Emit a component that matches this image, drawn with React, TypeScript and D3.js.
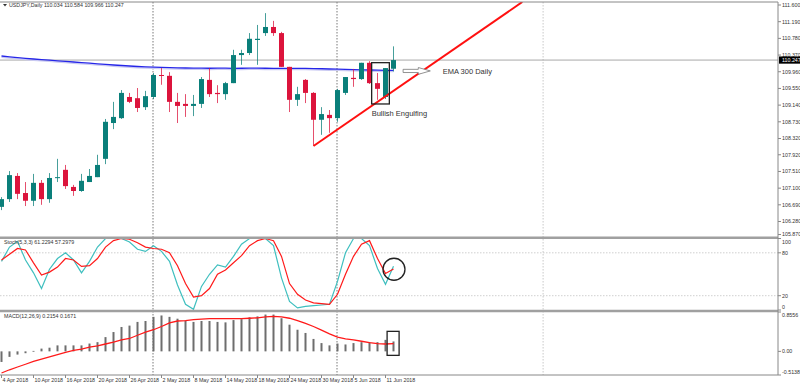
import React, { useEffect, useRef } from 'react';
import * as d3 from 'd3';

// tick labels on the time axis (every 4th bar)
const dateLabels = [
  '4 Apr 2018', '10 Apr 2018', '16 Apr 2018', '20 Apr 2018', '26 Apr 2018', '2 May 2018',
  '8 May 2018', '14 May 2018', '18 May 2018', '24 May 2018', '30 May 2018', '5 Jun 2018', '11 Jun 2018',
];
const priceTicks = [111.6, 111.19, 110.78, 110.37, 109.96, 109.55, 109.14, 108.73, 108.32, 107.92, 107.51, 107.1, 106.69, 106.28, 105.87];
const stochTicks = [100, 80, 20, 0];
const stochLevels = [80, 20];
const macdTicks = [0.8556, 0.0, -0.5138];
const lastPrice = 110.247;

// USDJPY daily candles, 4 Apr .. 12 Jun 2018
const opens = [
  106.64, 106.83, 107.40, 106.98, 106.79, 107.23, 106.83, 107.35, 107.55, 107.13,
  107.03, 107.25, 107.37, 107.82, 108.70, 108.82, 109.34, 109.31, 109.09, 109.34,
  109.88, 109.86, 109.22, 109.17, 109.12, 109.17, 109.76, 109.44, 109.41, 109.68,
  110.37, 110.42, 110.74, 110.91, 111.06, 110.91, 110.08, 109.27, 109.76, 109.44,
  108.78, 108.90, 108.82, 109.44, 109.81, 109.78, 110.18, 109.68, 109.34, 110.034,
];
const highs = [
  106.88, 107.52, 107.47, 107.25, 107.45, 107.30, 107.47, 107.82, 107.67, 107.18,
  107.45, 107.57, 107.92, 108.80, 109.22, 109.51, 109.44, 109.56, 109.49, 109.93,
  110.05, 109.95, 109.44, 109.41, 109.39, 109.83, 110.05, 109.63, 109.71, 110.50,
  110.50, 110.91, 111.11, 111.40, 111.21, 110.94, 110.08, 109.59, 109.78, 109.46,
  109.09, 109.02, 109.54, 109.83, 110.03, 110.18, 110.22, 109.93, 110.05, 110.584,
];
const lows = [
  106.56, 106.76, 106.83, 106.66, 106.66, 106.69, 106.74, 107.25, 107.08, 106.91,
  107.01, 107.25, 107.37, 107.69, 108.55, 108.80, 109.19, 108.97, 109.02, 109.29,
  109.64, 108.97, 108.70, 108.85, 108.87, 109.07, 109.34, 109.19, 109.27, 109.68,
  110.13, 110.37, 110.13, 110.84, 110.84, 110.08, 108.97, 109.12, 109.19, 108.14,
  108.41, 108.46, 108.73, 109.39, 109.59, 109.76, 109.66, 109.27, 109.29, 109.966,
];
const closes = [
  106.83, 107.42, 106.96, 106.79, 107.23, 106.83, 107.35, 107.37, 107.15, 107.03,
  107.28, 107.40, 107.67, 108.73, 108.85, 109.44, 109.22, 109.07, 109.36, 109.88,
  109.86, 109.22, 109.12, 109.12, 109.17, 109.78, 109.41, 109.41, 109.68, 110.37,
  110.42, 110.77, 110.77, 111.06, 110.91, 110.08, 109.27, 109.41, 109.44, 108.78,
  108.92, 108.82, 109.51, 109.83, 109.78, 110.18, 109.68, 109.54, 110.05, 110.247,
];
const ema300 = [
  110.347, 110.327, 110.308, 110.291, 110.273, 110.259, 110.244, 110.229, 110.214, 110.2,
  110.185, 110.17, 110.155, 110.141, 110.126, 110.114, 110.101, 110.089, 110.079, 110.072,
  110.065, 110.06, 110.055, 110.052, 110.05, 110.047, 110.046, 110.048, 110.047, 110.045,
  110.046, 110.047, 110.048, 110.046, 110.045, 110.044, 110.045, 110.044, 110.042, 110.037,
  110.033, 110.028, 110.023, 110.018, 110.013, 110.008, 110.003, 109.998, 109.996, 109.993,
];

// Stochastic(5,3,3)
const stochK = [
  68, 88, 96, 70, 52, 30, 57, 72, 80, 70,
  52, 68, 88, 100, 100, 100, 95, 85, 82, 90,
  82, 68, 35, 8, 1, 33, 50, 63, 60, 75,
  92, 100, 100, 100, 90, 45, 12, 3, 5, 6,
  7, 8, 40, 80, 100, 100, 90, 58, 36, 61.2294,
];
const stochD = [
  70, 78, 86, 84, 66, 49, 53, 60, 72, 70,
  61, 62, 72, 88, 97, 100, 99, 94, 88, 86,
  85, 80, 62, 37, 18, 20, 30, 50, 56, 66,
  76, 90, 97, 100, 97, 75, 37, 22, 14, 10,
  9, 8, 22, 50, 75, 92, 97, 72, 51, 57.2979,
];

// MACD(12,26,9)
const macdMain = [
  -0.23, -0.12, -0.07, -0.04, 0.01, 0.06, 0.08, 0.13, 0.13, 0.13,
  0.13, 0.17, 0.2, 0.31, 0.42, 0.53, 0.56, 0.64, 0.66, 0.75,
  0.78, 0.75, 0.71, 0.67, 0.64, 0.66, 0.66, 0.64, 0.63, 0.68,
  0.7, 0.74, 0.76, 0.8, 0.8, 0.72, 0.58, 0.47, 0.4, 0.27,
  0.18, 0.13, 0.17, 0.15, 0.18, 0.2, 0.2, 0.2, 0.25, 0.2154,
];
const macdSignal = [
  -0.47, -0.4, -0.34, -0.28, -0.22, -0.17, -0.12, -0.07, -0.02, 0.02,
  0.05, 0.09, 0.12, 0.16, 0.2, 0.25, 0.28, 0.35, 0.42, 0.47,
  0.54, 0.62, 0.66, 0.67, 0.69, 0.7, 0.71, 0.71, 0.71, 0.71,
  0.71, 0.72, 0.73, 0.75, 0.76, 0.75, 0.72, 0.67, 0.61, 0.54,
  0.46, 0.38, 0.31, 0.27, 0.25, 0.22, 0.19, 0.17, 0.16, 0.1671,
];

// hand drawn objects, in bar index / price space
const trendLine = [{ i: 39, p: 108.136 }, { i: 65.1, p: 111.674 }];
const engulfBox = { i0: 46.27, i1: 48.48, p0: 110.183, p1: 109.168 };
const periodSeps = [19, 42];
const shiftLine = 67.7;

const UP = '#0a7f7a';
const DOWN = '#dc143c';
const FONT = "'Liberation Sans', Arial, sans-serif";

const App: React.FC = () => {
  const svgRef = useRef<SVGSVGElement>(null);

  useEffect(() => {
    if (!svgRef.current) return;
    const svg = d3.select(svgRef.current);
    svg.selectAll('*').remove();

    const right = 778;
    const mainTop = 2, mainBottom = 237;
    const stochTop = 238.5, stochBottom = 310;
    const macdTop = 312, macdBottom = 375;

    const x = d3.scaleLinear().domain([0, 49]).range([1.5, 393.5]);
    const yP = d3.scaleLinear().domain([105.87, 111.6]).range([238.2, 5]);
    const yS = d3.scaleLinear().domain([0, 100]).range([stochBottom, stochTop]);
    const yM = d3.scaleLinear().domain([-0.5138, 0.8556]).range([macdBottom, macdTop]);

    svg.append('rect').attr('width', 800).attr('height', 386).attr('fill', '#fff');

    const defs = svg.append('defs');
    defs.append('clipPath').attr('id', 'clipMain').append('rect')
      .attr('x', 0).attr('y', mainTop).attr('width', right).attr('height', mainBottom - mainTop);

    // separators
    periodSeps.forEach(i => {
      svg.append('line')
        .attr('x1', x(i) - 0.5).attr('x2', x(i) - 0.5).attr('y1', mainTop).attr('y2', macdBottom)
        .attr('stroke', '#555').attr('stroke-width', 0.8).attr('stroke-dasharray', '1.5,1.5');
    });
    svg.append('line')
      .attr('x1', x(shiftLine)).attr('x2', x(shiftLine)).attr('y1', mainTop).attr('y2', macdBottom)
      .attr('stroke', '#bbb').attr('stroke-width', 0.8).attr('stroke-dasharray', '1.5,1.5');

    // ---- main panel
    const main = svg.append('g').attr('clip-path', 'url(#clipMain)');

    main.append('line')
      .attr('x1', 0).attr('x2', right).attr('y1', yP(lastPrice)).attr('y2', yP(lastPrice))
      .attr('stroke', '#a8a8a8').attr('stroke-width', 1);

    main.append('path')
      .datum(ema300)
      .attr('fill', 'none')
      .attr('stroke', '#c9c9f2')
      .attr('stroke-width', 1.2)
      .attr('transform', 'translate(0,1.3)')
      .attr('d', d3.line<number>().x((_, i) => x(i)).y(d => yP(d)));
    main.append('path')
      .datum(ema300)
      .attr('fill', 'none')
      .attr('stroke', '#2626e8')
      .attr('stroke-width', 1.3)
      .attr('d', d3.line<number>().x((_, i) => x(i)).y(d => yP(d)));

    opens.forEach((o, i) => {
      const c = closes[i];
      const col = c >= o ? UP : DOWN;
      main.append('line')
        .attr('x1', x(i)).attr('x2', x(i))
        .attr('y1', yP(highs[i])).attr('y2', yP(lows[i]))
        .attr('stroke', col).attr('stroke-opacity', 0.75).attr('stroke-width', 1);
      const top = yP(Math.max(o, c));
      const h = Math.max(1, Math.abs(yP(o) - yP(c)));
      main.append('rect')
        .attr('x', x(i) - 2.5).attr('y', top)
        .attr('width', 5).attr('height', h)
        .attr('fill', col);
    });

    // trend line
    main.append('line')
      .attr('x1', x(trendLine[0].i)).attr('y1', yP(trendLine[0].p))
      .attr('x2', x(trendLine[1].i)).attr('y2', yP(trendLine[1].p))
      .attr('stroke', '#ff1010').attr('stroke-width', 2);

    // bullish engulfing box + label
    main.append('rect')
      .attr('x', x(engulfBox.i0)).attr('y', yP(engulfBox.p0))
      .attr('width', x(engulfBox.i1) - x(engulfBox.i0))
      .attr('height', yP(engulfBox.p1) - yP(engulfBox.p0))
      .attr('fill', 'none').attr('stroke', '#222').attr('stroke-width', 1.3);
    main.append('text')
      .attr('x', x(engulfBox.i0)).attr('y', yP(108.873))
      .attr('font-family', FONT).attr('font-size', 7.5).attr('fill', '#333')
      .text('Bullish Engulfing');

    // arrow + EMA label
    const ay = yP(109.98);
    const ax0 = x(50.2), ax1 = x(52.1), ax2 = x(53.6);
    main.append('path')
      .attr('d', `M${ax0},${ay - 1.6}L${ax1},${ay - 1.6}L${ax1},${ay - 3.4}L${ax2},${ay}L${ax1},${ay + 3.4}L${ax1},${ay + 1.6}L${ax0},${ay + 1.6}Z`)
      .attr('fill', '#fff').attr('stroke', '#777').attr('stroke-width', 0.8);
    main.append('text')
      .attr('x', x(55.15)).attr('y', yP(109.905))
      .attr('font-family', FONT).attr('font-size', 7.5).attr('fill', '#333')
      .text('EMA 300 Daily');

    // ---- stochastic panel
    stochLevels.forEach(v => {
      svg.append('line')
        .attr('x1', 0).attr('x2', right).attr('y1', yS(v)).attr('y2', yS(v))
        .attr('stroke', '#c4c4c4').attr('stroke-width', 0.8).attr('stroke-dasharray', '1.5,1.5');
    });
    svg.append('path')
      .datum(stochK)
      .attr('fill', 'none').attr('stroke', '#3fbfbf').attr('stroke-width', 1.2)
      .attr('d', d3.line<number>().x((_, i) => x(i)).y(d => yS(d)));
    svg.append('path')
      .datum(stochD)
      .attr('fill', 'none').attr('stroke', '#ff1a1a').attr('stroke-width', 1.2)
      .attr('d', d3.line<number>().x((_, i) => x(i)).y(d => yS(d)));
    svg.append('circle')
      .attr('cx', x(49.06)).attr('cy', yS(57)).attr('r', 11)
      .attr('fill', 'none').attr('stroke', '#222').attr('stroke-width', 1.3);

    // ---- MACD panel
    svg.append('g').selectAll('rect')
      .data(macdMain)
      .join('rect')
      .attr('x', (_, i) => x(i) - 1)
      .attr('width', 2)
      .attr('y', d => Math.min(yM(0), yM(d)))
      .attr('height', d => Math.max(0.8, Math.abs(yM(d) - yM(0))))
      .attr('fill', '#6e6e6e');
    svg.append('path')
      .datum(macdSignal)
      .attr('fill', 'none').attr('stroke', '#ff1a1a').attr('stroke-width', 1.3)
      .attr('d', d3.line<number>().x((_, i) => x(i)).y(d => yM(d)));
    svg.append('rect')
      .attr('x', x(48.2)).attr('y', yM(0.435))
      .attr('width', x(49.7) - x(48.2)).attr('height', yM(-0.087) - yM(0.435))
      .attr('fill', 'none').attr('stroke', '#222').attr('stroke-width', 1.3);

    // ---- frames
    svg.append('line').attr('x1', 0).attr('x2', right).attr('y1', mainTop).attr('y2', mainTop)
      .attr('stroke', '#888').attr('stroke-width', 1);
    [mainBottom + 0.8, stochBottom + 1].forEach(yy => {
      svg.append('line').attr('x1', 0).attr('x2', right).attr('y1', yy).attr('y2', yy)
        .attr('stroke', '#a0a0a0').attr('stroke-width', 2.6);
    });
    svg.append('line').attr('x1', 0).attr('x2', right).attr('y1', macdBottom).attr('y2', macdBottom)
      .attr('stroke', '#888').attr('stroke-width', 1);
    svg.append('line').attr('x1', right).attr('x2', right).attr('y1', mainTop).attr('y2', macdBottom)
      .attr('stroke', '#888').attr('stroke-width', 1);

    const axisText = (sel: d3.Selection<SVGTextElement, unknown, null, undefined>) =>
      sel.attr('font-family', FONT).attr('font-size', 5.3).attr('fill', '#333');

    // price axis
    priceTicks.forEach(p => {
      const yy = Math.min(mainBottom - 2.5, yP(p));
      svg.append('line').attr('x1', right).attr('x2', right + 3).attr('y1', yy).attr('y2', yy)
        .attr('stroke', '#888');
      axisText(svg.append('text')).attr('x', right + 4).attr('y', yy).attr('dy', '0.35em')
        .text(p.toFixed(3));
    });
    svg.append('rect').attr('x', right + 1).attr('y', yP(lastPrice) - 3.6)
      .attr('width', 800 - right - 1).attr('height', 7.2).attr('fill', '#000');
    axisText(svg.append('text')).attr('x', right + 4).attr('y', yP(lastPrice)).attr('dy', '0.35em')
      .attr('fill', '#fff').text(lastPrice.toFixed(3));

    stochTicks.forEach(v => {
      const yy = Math.min(stochBottom - 3, Math.max(stochTop + 4, yS(v)));
      svg.append('line').attr('x1', right).attr('x2', right + 3).attr('y1', yS(v)).attr('y2', yS(v))
        .attr('stroke', '#888');
      axisText(svg.append('text')).attr('x', right + 4).attr('y', yy).attr('dy', '0.35em').text(String(v));
    });
    macdTicks.forEach(v => {
      const yy = Math.min(macdBottom - 3, Math.max(macdTop + 3, yM(v)));
      svg.append('line').attr('x1', right).attr('x2', right + 3).attr('y1', yM(v)).attr('y2', yM(v))
        .attr('stroke', '#888');
      axisText(svg.append('text')).attr('x', right + 4).attr('y', yy).attr('dy', '0.35em')
        .text(v === 0 ? '0.00' : String(v));
    });

    // time axis
    dateLabels.forEach((lbl, k) => {
      const xx = x(k * 4);
      svg.append('line').attr('x1', xx).attr('x2', xx).attr('y1', macdBottom).attr('y2', macdBottom + 3)
        .attr('stroke', '#888');
      axisText(svg.append('text')).attr('x', xx + 1).attr('y', macdBottom + 6.5).text(lbl);
    });

    // panel titles
    svg.append('path').attr('d', 'M3,4L7,4L5,6.5Z').attr('fill', '#333');
    axisText(svg.append('text')).attr('x', 9).attr('y', 7.2)
      .text('USDJPY,Daily  110.034 110.584 109.966 110.247');
    axisText(svg.append('text')).attr('x', 4).attr('y', stochTop + 5.5)
      .text('Stoch(5,3,3) 61.2294 57.2979');
    axisText(svg.append('text')).attr('x', 4).attr('y', macdTop + 6)
      .text('MACD(12,26,9) 0.2154 0.1671');
  }, []);

  return (
    <svg
      ref={svgRef}
      width={800}
      height={386}
      style={{ position: 'absolute', left: 0, top: 0, display: 'block' }}
    />
  );
};

export default App;
